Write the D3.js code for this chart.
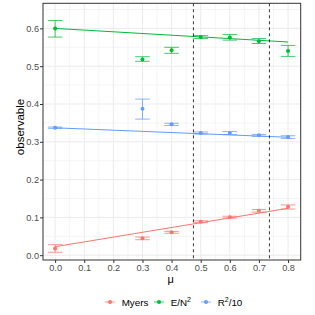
<!DOCTYPE html>
<html><head><meta charset="utf-8">
<script src="https://cdn.jsdelivr.net/npm/d3@7"></script>
<style>body{margin:0;background:#fff}svg{display:block}text{font-family:"Liberation Sans",Arial,sans-serif}</style>
</head><body><svg id="c" width="315" height="315"></svg>
<script>
const mu = [0.0, 0.3, 0.4, 0.5, 0.6, 0.7, 0.8];
const seriesNames = ["Myers", "E/N2", "R2/10"];
const colors = ["#F8766D", "#00BA38", "#619CFF"];
const myersVal = [0.018, 0.0447, 0.0605, 0.0886, 0.1003, 0.1177, 0.128];
const myersLo  = [0.0077, 0.041, 0.058, 0.086, 0.098, 0.114, 0.122];
const myersHi  = [0.028, 0.048, 0.063, 0.091, 0.103, 0.121, 0.133];
const enVal = [0.600, 0.518, 0.542, 0.577, 0.576, 0.566, 0.540];
const enLo  = [0.577, 0.513, 0.534, 0.573, 0.569, 0.560, 0.526];
const enHi  = [0.621, 0.525, 0.550, 0.581, 0.584, 0.573, 0.555];
const rVal = [0.3373, 0.3876, 0.3463, 0.3233, 0.3233, 0.317, 0.3127];
const rLo  = [0.3355, 0.360, 0.343, 0.3205, 0.319, 0.3145, 0.309];
const rHi  = [0.339, 0.413, 0.349, 0.326, 0.327, 0.3195, 0.316];
// fitted line endpoints (mu = 0 and mu = 0.8)
const fitStart = [0.0225, 0.600, 0.337];
const fitEnd   = [0.124, 0.564, 0.312];
const vlines = [0.475, 0.736];
const xTicks = [0, 0.1, 0.2, 0.3, 0.4, 0.5, 0.6, 0.7, 0.8];
const yTicks = [0, 0.1, 0.2, 0.3, 0.4, 0.5, 0.6];

const svg = d3.select("#c");
const L = 43, R = 300.7, T = 3.3, B = 260;
const x = d3.scaleLinear().domain([-0.0416, 0.8434]).range([L, R]);
const y = d3.scaleLinear().domain([-0.0127, 0.6664]).range([B, T]);

const g = svg.append("g");
const xMinor = d3.range(-0.05, 0.9, 0.1).map(v => +v.toFixed(2)).filter(v => v > -0.0416 && v < 0.8434);
const yMinor = d3.range(0.05, 0.7, 0.1).map(v => +v.toFixed(2)).filter(v => v < 0.6664);
g.selectAll(".xm").data(xMinor).join("line").attr("x1", d => x(d)).attr("x2", d => x(d)).attr("y1", T).attr("y2", B).attr("stroke", "#EBEBEB").attr("stroke-width", 0.5);
g.selectAll(".ym").data(yMinor).join("line").attr("y1", d => y(d)).attr("y2", d => y(d)).attr("x1", L).attr("x2", R).attr("stroke", "#EBEBEB").attr("stroke-width", 0.5);
g.selectAll(".xM").data(xTicks).join("line").attr("x1", d => x(d)).attr("x2", d => x(d)).attr("y1", T).attr("y2", B).attr("stroke", "#EBEBEB").attr("stroke-width", 1);
g.selectAll(".yM").data(yTicks).join("line").attr("y1", d => y(d)).attr("y2", d => y(d)).attr("x1", L).attr("x2", R).attr("stroke", "#EBEBEB").attr("stroke-width", 1);

const series = [
  {val: myersVal, lo: myersLo, hi: myersHi},
  {val: enVal, lo: enLo, hi: enHi},
  {val: rVal, lo: rLo, hi: rHi}
];
const cw = 0.025;
series.forEach((s, i) => {
  const c = colors[i];
  const sg = svg.append("g");
  sg.append("line").attr("x1", x(0)).attr("x2", x(0.8)).attr("y1", y(fitStart[i])).attr("y2", y(fitEnd[i]))
    .attr("stroke", c).attr("stroke-width", 1);
  const data = mu.map((m, j) => ({m, v: s.val[j], lo: s.lo[j], hi: s.hi[j]}));
  sg.selectAll(".ev").data(data).join("line").attr("x1", d => x(d.m)).attr("x2", d => x(d.m)).attr("y1", d => y(d.lo)).attr("y2", d => y(d.hi)).attr("stroke", c).attr("stroke-width", 1).attr("opacity", 0.75);
  ["lo", "hi"].forEach(k => {
    sg.selectAll(".c" + k).data(data).join("line").attr("x1", d => x(d.m - cw)).attr("x2", d => x(d.m + cw)).attr("y1", d => y(d[k])).attr("y2", d => y(d[k])).attr("stroke", c).attr("stroke-width", 1).attr("opacity", 0.75);
  });
  sg.selectAll("circle").data(data).join("circle").attr("cx", d => x(d.m)).attr("cy", d => y(d.v)).attr("r", 2).attr("fill", c);
});

svg.selectAll(".vl").data(vlines).join("line").attr("x1", d => x(d)).attr("x2", d => x(d)).attr("y1", T).attr("y2", B)
  .attr("stroke", "#000").attr("stroke-width", 0.8).attr("stroke-dasharray", "3,3");

svg.append("rect").attr("x", L).attr("y", T).attr("width", R - L).attr("height", B - T).attr("fill", "none").attr("stroke", "#333").attr("stroke-width", 1);

const xa = svg.append("g").attr("transform", `translate(0,${B})`).call(d3.axisBottom(x).tickValues(xTicks).tickFormat(d3.format(".1f")).tickSize(3).tickPadding(1));
const ya = svg.append("g").attr("transform", `translate(${L},0)`).call(d3.axisLeft(y).tickValues(yTicks).tickFormat(d3.format(".1f")).tickSize(3).tickPadding(1));
[xa, ya].forEach(a => {
  a.select(".domain").remove();
  a.selectAll(".tick line").attr("stroke", "#333");
  a.selectAll(".tick text").attr("fill", "#4D4D4D").style("font-size", "9.2px").style("font-family", '"Liberation Sans",Arial,sans-serif');
});

svg.append("text").attr("x", x(0.4) - 1).attr("y", 283).attr("text-anchor", "middle").style("font-size", "11px").text("μ");
svg.append("text").attr("transform", `translate(24,127) rotate(-90)`).attr("text-anchor", "middle").style("font-size", "11.5px").text("observable");

const legX = [110, 159, 206];
const lg = svg.append("g");
seriesNames.forEach((n, i) => {
  const cx = legX[i], cy = 302;
  lg.append("line").attr("x1", cx - 5).attr("x2", cx + 5).attr("y1", cy).attr("y2", cy).attr("stroke", colors[i]).attr("stroke-width", 1).attr("opacity", 0.75);
  lg.append("circle").attr("cx", cx).attr("cy", cy).attr("r", 2).attr("fill", colors[i]);
  const t = lg.append("text").attr("x", cx + 11.7).attr("y", cy + 3.5).style("font-size", "9.8px");
  if (n === "E/N2") {
    t.append("tspan").text("E/N");
    t.append("tspan").attr("dy", -4).style("font-size", "7px").text("2");
  } else if (n === "R2/10") {
    t.append("tspan").text("R");
    t.append("tspan").attr("dy", -4).style("font-size", "7px").text("2");
    t.append("tspan").attr("dy", 4).text("/10");
  } else {
    t.text(n);
  }
});
</script></body></html>
